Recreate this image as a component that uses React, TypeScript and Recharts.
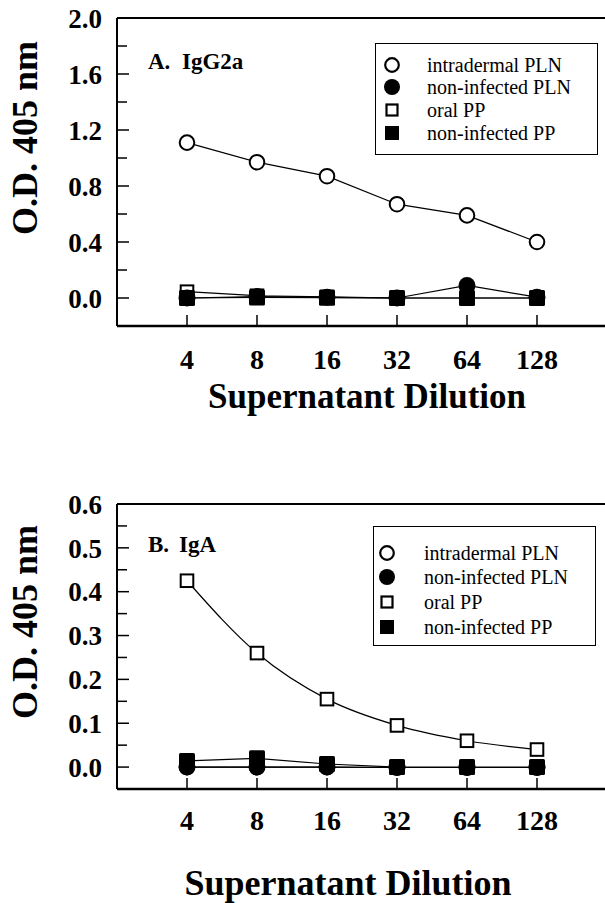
import { Legend, Line, LineChart, ReferenceLine, XAxis, YAxis } from "recharts";

const dilutions = [4, 8, 16, 32, 64, 128];

// panel A, IgG2a
const iggIntradermalPLN = [1.11, 0.97, 0.87, 0.67, 0.59, 0.4];
const iggNonInfectedPLN = [0.0, 0.01, 0.005, 0.0, 0.09, 0.006];
const iggOralPP = [0.045, 0.016, 0.008, 0.0, 0.0, 0.0];
const iggNonInfectedPP = [0.0, 0.004, 0.002, 0.0, 0.0, 0.0];

// panel B, IgA
const igaIntradermalPLN = [0.0, 0.0, 0.0, -0.001, -0.001, -0.001];
const igaNonInfectedPLN = [0.0, 0.0, 0.0, -0.001, -0.001, -0.001];
const igaOralPP = [0.425, 0.26, 0.155, 0.095, 0.06, 0.04];
const igaNonInfectedPP = [0.014, 0.02, 0.007, 0.0, 0.0, 0.0];

const yTicksA = [0, 0.2, 0.4, 0.6, 0.8, 1.0, 1.2, 1.4, 1.6, 1.8, 2.0];
const yLabelsA = [0, 0.4, 0.8, 1.2, 1.6, 2.0];
const yTicksB = [0, 0.05, 0.1, 0.15, 0.2, 0.25, 0.3, 0.35, 0.4, 0.45, 0.5, 0.55, 0.6];
const yLabelsB = [0, 0.1, 0.2, 0.3, 0.4, 0.5, 0.6];

const seriesNames = ["intradermal PLN", "non-infected PLN", "oral PP", "non-infected PP"];
const markerKinds = ["openCircle", "filledCircle", "openSquare", "filledSquare"];

const FONT = "'Liberation Serif', 'Times New Roman', serif";

const rowsA = dilutions.map((d, i) => ({
  dil: d,
  intra: iggIntradermalPLN[i],
  nonPLN: iggNonInfectedPLN[i],
  oral: iggOralPP[i],
  nonPP: iggNonInfectedPP[i],
}));

const rowsB = dilutions.map((d, i) => ({
  dil: d,
  intra: igaIntradermalPLN[i],
  nonPLN: igaNonInfectedPLN[i],
  oral: igaOralPP[i],
  nonPP: igaNonInfectedPP[i],
}));

function Marker({ kind, cx, cy }: { kind: string; cx: number; cy: number }) {
  if (kind === "openCircle")
    return <circle cx={cx} cy={cy} r={7.3} fill="#fff" stroke="#000" strokeWidth={2} />;
  if (kind === "filledCircle") return <circle cx={cx} cy={cy} r={8.5} fill="#000" />;
  if (kind === "openSquare")
    return <rect x={cx - 6.3} y={cy - 6.3} width={12.6} height={12.6} fill="#fff" stroke="#000" strokeWidth={2} />;
  return <rect x={cx - 8} y={cy - 8} width={16} height={16} rx={1.5} fill="#000" />;
}

const dotFor = (kind: string) => (p: any) => (
  <g key={`${kind}-${p.index}`}>
    <Marker kind={kind} cx={p.cx} cy={p.cy} />
  </g>
);

const near = (list: number[], v: number) => list.some((l) => Math.abs(l - v) < 1e-9);

const yTick = (labels: number[]) => (p: any) => {
  const v = p.payload.value;
  const major = near(labels, v);
  return (
    <g>
      <line x1={p.x} x2={p.x + (major ? 12 : 10)} y1={p.y} y2={p.y} stroke="#000" strokeWidth={1.5} />
      {major && (
        <text x={p.x - 15} y={p.y} dy="0.36em" textAnchor="end" fontFamily={FONT} fontWeight="bold" fontSize={27} fill="#000">
          {v.toFixed(1)}
        </text>
      )}
    </g>
  );
};

const xTick = (drop: number) => (p: any) => (
  <g>
    <line x1={p.x} x2={p.x} y1={p.y} y2={p.y - 11} stroke="#000" strokeWidth={1.5} />
    <text x={p.x} y={p.y + drop} textAnchor="middle" fontFamily={FONT} fontWeight="bold" fontSize={28} fill="#000">
      {p.payload.value}
    </text>
  </g>
);

function LegendBox({ w, h, rowYs, symX, textX }: { w: number; h: number; rowYs: number[]; symX: number; textX: number }) {
  return (
    <div style={{ position: "relative", width: w, height: h, boxSizing: "border-box", border: "1.5px solid #000", background: "#fff" }}>
      <svg width={w} height={h} style={{ position: "absolute", left: -1.5, top: -1.5 }}>
        {seriesNames.map((name, i) => (
          <g key={name}>
            {markerKinds[i] === "openCircle" && <circle cx={symX} cy={rowYs[i]} r={6.8} fill="#fff" stroke="#000" strokeWidth={2.2} />}
            {markerKinds[i] === "filledCircle" && <circle cx={symX} cy={rowYs[i]} r={8} fill="#000" />}
            {markerKinds[i] === "openSquare" && (
              <rect x={symX - 5.5} y={rowYs[i] - 5.5} width={11} height={11} fill="#fff" stroke="#000" strokeWidth={2.2} />
            )}
            {markerKinds[i] === "filledSquare" && <rect x={symX - 7} y={rowYs[i] - 7} width={14} height={14} fill="#000" />}
            <text x={textX} y={rowYs[i]} dy="0.33em" fontFamily={FONT} fontSize={20} fill="#000">
              {name}
            </text>
          </g>
        ))}
      </svg>
    </div>
  );
}

type PanelProps = {
  rows: any[];
  top: number;
  marginTop: number;
  xHeight: number;
  yDomain: [number, number];
  yTicks: number[];
  yLabels: number[];
  tickDrop: number;
  legendPos: { left: number; top: number; w: number; h: number; rowYs: number[]; symX: number; textX: number };
  smoothOral: boolean;
};

function Panel({ rows, top, marginTop, xHeight, yDomain, yTicks, yLabels, tickDrop, legendPos, smoothOral }: PanelProps) {
  const lines = [
    { key: "intra", kind: "openCircle", name: seriesNames[0] },
    { key: "oral", kind: "openSquare", name: seriesNames[2] },
    { key: "nonPP", kind: "filledSquare", name: seriesNames[3] },
    { key: "nonPLN", kind: "filledCircle", name: seriesNames[1] },
  ];
  return (
    <div style={{ position: "absolute", left: 0, top }}>
      <LineChart width={620} height={440} data={rows} margin={{ top: marginTop, right: 13, bottom: 0, left: 0 }}>
        <XAxis
          dataKey="dil"
          type="number"
          scale="log"
          domain={[2, 256]}
          ticks={dilutions}
          interval={0}
          height={xHeight}
          tickSize={0}
          tickMargin={0}
          tickLine={false}
          axisLine={{ stroke: "#000", strokeWidth: 2.5 }}
          tick={xTick(tickDrop)}
        />
        <YAxis
          type="number"
          domain={yDomain}
          ticks={yTicks}
          interval={0}
          width={117}
          tickSize={0}
          tickMargin={0}
          tickLine={false}
          axisLine={{ stroke: "#000", strokeWidth: 2 }}
          tick={yTick(yLabels)}
        />
        <ReferenceLine y={yDomain[1]} stroke="#000" strokeWidth={2} />
        <ReferenceLine x={256} stroke="#000" strokeWidth={2} />
        {lines.map((l) => (
          <Line
            key={l.key}
            dataKey={l.key}
            name={l.name}
            type={smoothOral && l.key === "oral" ? "monotone" : "linear"}
            stroke="#000"
            strokeWidth={1.2}
            dot={dotFor(l.kind)}
            activeDot={false}
            isAnimationActive={false}
          />
        ))}
        <Legend
          layout="vertical"
          align="center"
          verticalAlign="middle"
          wrapperStyle={{ left: legendPos.left, top: legendPos.top, width: legendPos.w, height: legendPos.h }}
          content={() => (
            <LegendBox w={legendPos.w} h={legendPos.h} rowYs={legendPos.rowYs} symX={legendPos.symX} textX={legendPos.textX} />
          )}
        />
      </LineChart>
    </div>
  );
}

export default function App() {
  const titleStyle = { fontFamily: FONT, fontWeight: "bold" as const, fill: "#000" };
  return (
    <div style={{ position: "absolute", left: 0, top: 0, width: 605, height: 903, overflow: "hidden", background: "#fff" }}>
      <Panel
        rows={rowsA}
        top={0}
        marginTop={18}
        xHeight={114}
        yDomain={[-0.2, 2.0]}
        yTicks={yTicksA}
        yLabels={yLabelsA}
        tickDrop={43}
        smoothOral={false}
        legendPos={{ left: 375, top: 43, w: 223, h: 112, rowYs: [22, 44, 67, 90], symX: 17, textX: 52 }}
      />
      <Panel
        rows={rowsB}
        top={460}
        marginTop={44}
        xHeight={111}
        yDomain={[-0.05, 0.6]}
        yTicks={yTicksB}
        yLabels={yLabelsB}
        tickDrop={41}
        smoothOral={true}
        legendPos={{ left: 373, top: 66, w: 223, h: 120, rowYs: [27, 51, 76, 101], symX: 14, textX: 51 }}
      />
      <svg width={605} height={903} style={{ position: "absolute", left: 0, top: 0, pointerEvents: "none" }}>
        <text x={148} y={69} fontSize={23} {...titleStyle}>A.</text>
        <text x={182} y={69} fontSize={23} {...titleStyle}>IgG2a</text>
        <text x={148} y={552} fontSize={23} {...titleStyle}>B.</text>
        <text x={179} y={552} fontSize={23} {...titleStyle}>IgA</text>
        <text transform="translate(37,138) rotate(-90)" textAnchor="middle" fontSize={36} {...titleStyle}>
          O.D. 405 nm
        </text>
        <text transform="translate(37,622) rotate(-90)" textAnchor="middle" fontSize={36} {...titleStyle}>
          O.D. 405 nm
        </text>
        <text x={367} y={408} textAnchor="middle" fontSize={35} {...titleStyle}>
          Supernatant Dilution
        </text>
        <text x={348} y={895} textAnchor="middle" fontSize={36} {...titleStyle}>
          Supernatant Dilution
        </text>
      </svg>
    </div>
  );
}
